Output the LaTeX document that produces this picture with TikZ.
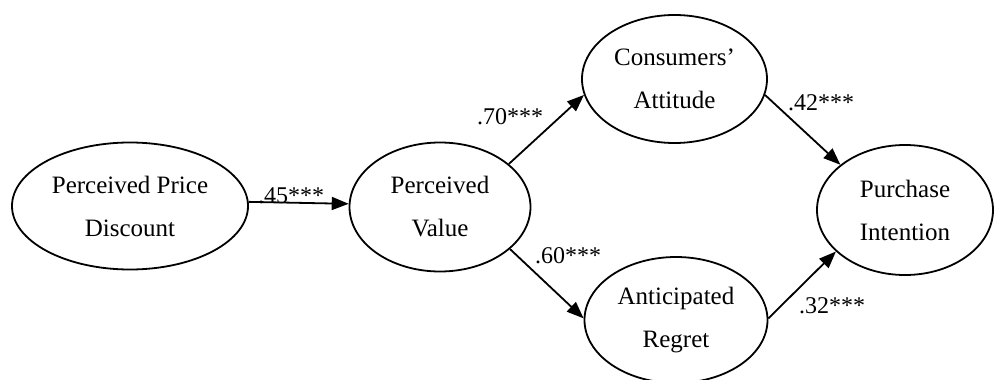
\documentclass[tikz,border=0pt]{standalone}
\usepackage{fontspec}
\setmainfont{Liberation Serif}
\usetikzlibrary{shapes.geometric,arrows.meta}
\begin{document}
\begin{tikzpicture}[x=1pt,y=-1pt,
  construct/.style={ellipse,draw,line width=1.8pt,inner sep=0pt,align=center,
    font=\fontsize{25}{43}\selectfont},
  patharrow/.style={line width=1.8pt,-{Triangle[length=17pt,width=13pt]}},
  coef/.style={anchor=base west,inner sep=0pt,font=\fontsize{24}{28}\selectfont}]
\useasboundingbox (0,0) rectangle (994,380);

% latent constructs
\node[construct,minimum width=236pt,minimum height=127pt] (ppd) at (130,206) {Perceived Price\\Discount};
\node[construct,minimum width=181pt,minimum height=129pt] (pv)  at (440,207) {Perceived\\Value};
\node[construct,minimum width=185pt,minimum height=128pt] (ca)  at (674.5,79) {Consumers’\\Attitude};
\node[construct,minimum width=183pt,minimum height=126pt] (ar)  at (676,320) {Anticipated\\Regret};
\node[construct,minimum width=176pt,minimum height=130pt] (pi)  at (905,210) {Purchase\\Intention};

% structural paths
\draw[patharrow] (ppd.2)   -- (pv.178);
\draw[patharrow] (pv.32)   -- (ca.190);
\draw[patharrow] (pv.-31)  -- (ar.179);
\draw[patharrow] (ca.-10)  -- (pi.145);
\draw[patharrow] (ar.1)    -- (pi.211);

% path coefficients
\node[coef] (c45) at (258,203) {.45***};
\node[coef] (c70) at (477,124) {.70***};
\node[coef] (c60) at (535,263) {.60***};
\node[coef] (c42) at (788,110) {.42***};
\node[coef] (c32) at (799,313) {.32***};
\end{tikzpicture}
\end{document}
